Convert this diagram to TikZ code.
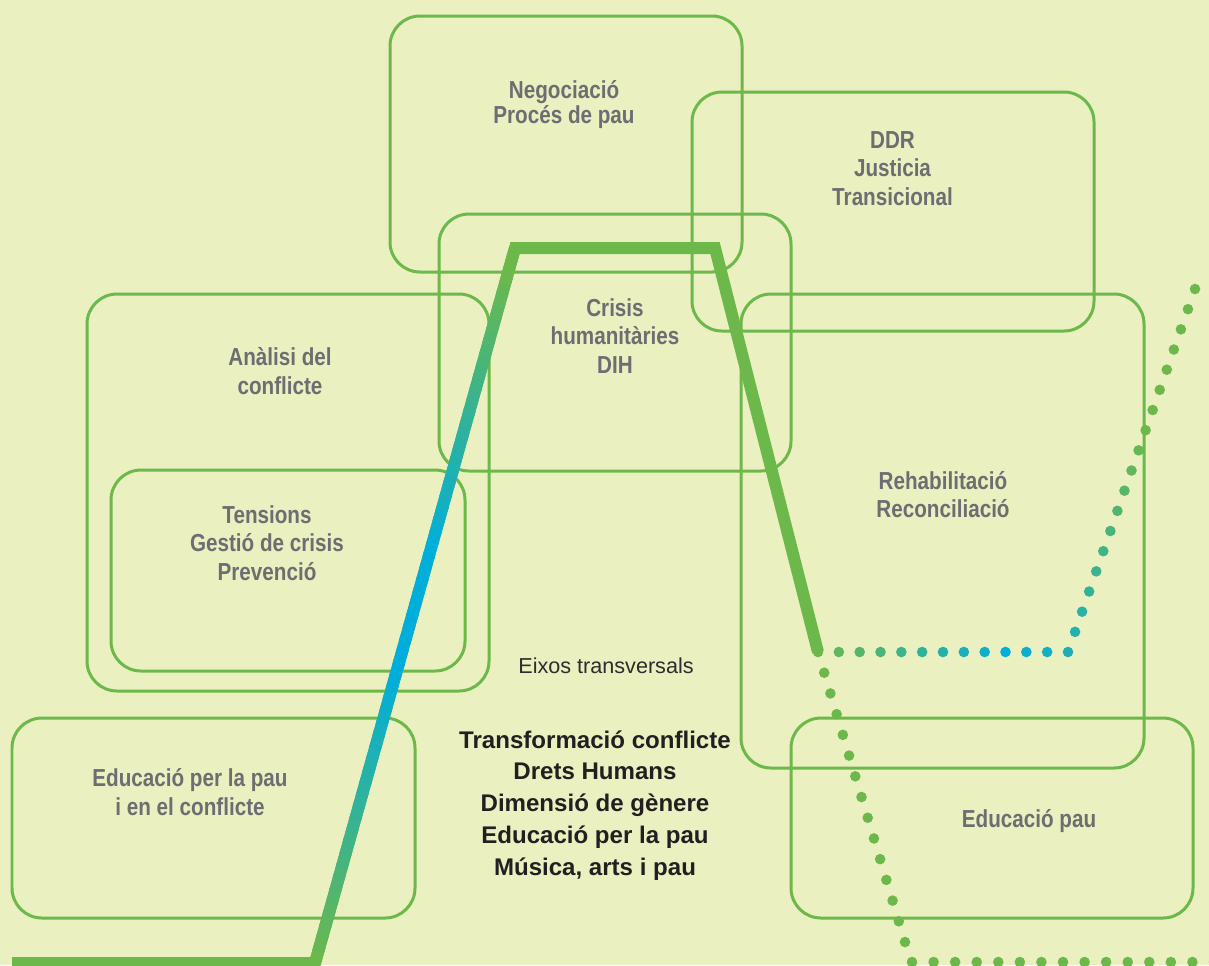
\documentclass[tikz,border=0pt]{standalone}
\usepackage{fontspec}
\usetikzlibrary{calc,fit}
\newfontfamily\condf{Liberation Sans}[FakeStretch=0.84]
\newfontfamily\regf{Liberation Sans}
\definecolor{bg}{RGB}{234,240,192}
\definecolor{lgreen}{RGB}{109,184,75}
\definecolor{lblue}{RGB}{0,174,219}
\definecolor{lgray}{RGB}{109,110,113}
\definecolor{ink}{RGB}{35,31,32}
\definecolor{inkmid}{RGB}{45,45,45}
\begin{document}
\begin{tikzpicture}[x=0.02cm,y=-0.02cm,
  box/.style={draw=lgreen, line width=0.06cm, rounded corners=0.6cm, inner sep=0pt},
  glabel/.style={font=\condf\bfseries\fontsize{14}{16.1}\selectfont, text=lgray, align=center, anchor=base, inner sep=0pt},
  glabeltight/.style={glabel, font=\condf\bfseries\fontsize{14}{14.2}\selectfont},
  klabel/.style={font=\regf\bfseries\fontsize{13.7}{18.07}\selectfont, text=ink, align=center, anchor=base, inner sep=0pt},
  eixos/.style={font=\regf\fontsize{12.3}{14}\selectfont, text=inkmid, anchor=base, inner sep=0pt},
  thick/.style={line width=0.24cm},
  dot/.style={radius=0.106cm}
]
\fill[bg] (0,0) rectangle (1209,965);
\useasboundingbox (0,0) rectangle (1209,965);

% boxes
\node[box, fit={(390,16)(742,272)}] (negbox) {};
\node[box, fit={(692,92)(1094,331)}] (ddrbox) {};
\node[box, fit={(439,214)(791,471)}] (cribox) {};
\node[box, fit={(87,294)(489,691)}] (anabox) {};
\node[box, fit={(111,470)(465,671)}] (tenbox) {};
\node[box, fit={(741,294)(1144,768)}] (rehbox) {};
\node[box, fit={(12,718)(415,918)}] (edlbox) {};
\node[box, fit={(791,718)(1193,918)}] (edrbox) {};

% thick line
\coordinate (p0) at (12,963);
\coordinate (p1) at (315,963);
\coordinate (p2) at (515,248);
\coordinate (p3) at (715,248);
\coordinate (p4) at (818,652);
\draw[lgreen, thick, line join=miter] (p0) -- (p1) -- (p2) -- (p3) -- (p4);
\foreach \i in {0,...,59} {
  \pgfmathsetmacro\ta{\i/60}
  \pgfmathsetmacro\tb{min(1,(\i+1.4)/60)}
  \pgfmathsetmacro\tm{(\i+0.5)/60}
  \pgfmathtruncatemacro\bb{\tm<0.4 ? 100*\tm/0.4 : (\tm<0.58 ? 100 : max(0,100*(0.97-\tm)/0.39))}
  \draw[thick, color=lblue!\bb!lgreen] ($(p1)!\ta!(p2)$) -- ($(p1)!\tb!(p2)$);
}

% dotted lines
\coordinate (h1) at (1068,652);
\coordinate (h2) at (1195,289);
\coordinate (d1) at (905,942);
\coordinate (b0) at (912,962);
\coordinate (b1) at (1214,962);
\foreach \i in {0,...,12} {
  \pgfmathsetmacro\t{\i/12}
  \pgfmathtruncatemacro\bb{\t<0.75 ? 100*\t/0.75 : 100-100*(\t-0.75)}
  \fill[lblue!\bb!lgreen] ($(p4)!\t!(h1)$) circle[dot];
}
\foreach \j in {1,...,18} {
  \pgfmathsetmacro\s{\j/18}
  \pgfmathtruncatemacro\bb{max(0,75*(1-\s/0.6))}
  \fill[lblue!\bb!lgreen] ($(h1)!\s!(h2)$) circle[dot];
}
\foreach \k in {1,...,14} {
  \fill[lgreen] ($(p4)!\k/14!(d1)$) circle[dot];
}
\foreach \k in {0,...,14} {
  \fill[lgreen] ($(b0)!\k/14!(b1)$) circle[dot];
}

% labels (anchor = baseline of the last line)
\node[glabeltight] (tneg) at (564,123) {Negociació\\Procés de pau};
\node[glabel] (tddr) at (892.5,205) {DDR\\Justicia\\Transicional};
\node[glabel] (tcri) at (615,373) {Crisis\\humanitàries\\DIH};
\node[glabel] (tana) at (280,394) {Anàlisi del\\conflicte};
\node[glabel] (tten) at (267,580) {Tensions\\Gestió de crisis\\Prevenció};
\node[glabel] (treh) at (943,517.5) {Rehabilitació\\Reconciliació};
\node[glabel] (tedl) at (190,815) {Educació per la pau\\i en el conflicte};
\node[glabel] (tedr) at (1029,827.5) {Educació pau};
\node[eixos] (teix) at (606,673) {Eixos transversals};
\node[klabel] (tcen) at (595,875) {Transformació conflicte\\Drets Humans\\Dimensió de gènere\\Educació per la pau\\Música, arts i pau};
\end{tikzpicture}
\end{document}
